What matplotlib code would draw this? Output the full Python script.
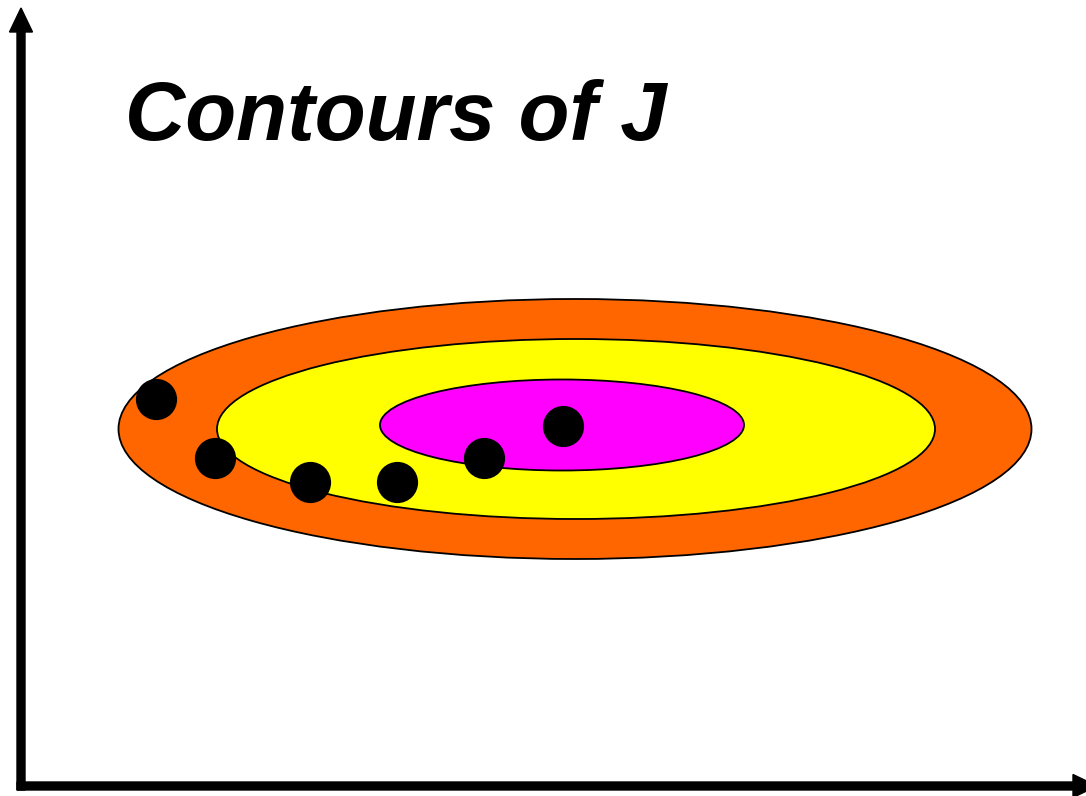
import matplotlib
matplotlib.use("Agg")
import matplotlib.pyplot as plt
from matplotlib.patches import Ellipse

# Contour ellipses (center x, center y, width, height) in pixel-like units
ell_names = ["outer", "middle", "inner"]
ell_cx = [575, 576, 562]
ell_cy = [429, 429, 425]
ell_w = [913, 718, 364]
ell_h = [260, 180, 91]
ell_colors = ["#FF6600", "#FFFF00", "#FF00FF"]

# Gradient descent steps
pts_x = [156, 215, 310, 397, 484, 563]
pts_y = [399, 458, 482, 482, 458, 426]

title = "Contours of J"

fig = plt.figure(figsize=(10.86, 7.96), dpi=100)
ax = fig.add_axes([0, 0, 1, 1])
ax.set_xlim(0, 1086)
ax.set_ylim(796, 0)
ax.axis("off")

for cx, cy, w, h, c in zip(ell_cx, ell_cy, ell_w, ell_h, ell_colors):
    ax.add_patch(Ellipse((cx, cy), w, h, facecolor=c, edgecolor="black", linewidth=1.3, zorder=2))

ax.scatter(pts_x, pts_y, s=880, color="black", zorder=4, linewidths=0)

# axes arrows
ax.arrow(21, 790, 0, -782, width=8, head_width=23, head_length=24,
         length_includes_head=True, color="black", zorder=5)
ax.arrow(17, 786, 1080, 0, width=8, head_width=23, head_length=24,
         length_includes_head=True, color="black", zorder=5)

ax.text(125, 140, title, fontsize=60, fontweight="bold", fontstyle="italic",
        family=["Liberation Sans", "DejaVu Sans"], va="baseline", ha="left", zorder=6)

fig.savefig("out.png", dpi=100)
